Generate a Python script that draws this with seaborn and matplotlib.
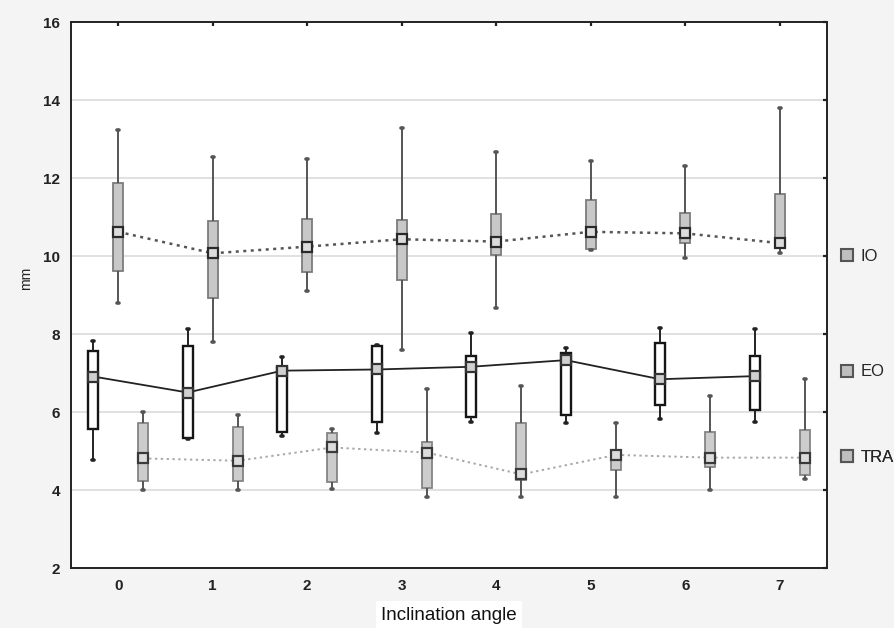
import numpy as np
import pandas as pd
import matplotlib
matplotlib.use("Agg")
import matplotlib.pyplot as plt
import seaborn as sns
from matplotlib.lines import Line2D

# ---------------- data ----------------
angles = [0, 1, 2, 3, 4, 5, 6, 7]
tick_labels = ["0", "1", "2", "3", "4", "5", "6", "7"]
series_names = ["EO", "IO", "TRA"]

io_min = [8.80, 7.80, 9.10, 7.59, 8.66, 10.15, 9.94, 10.07]
io_q1 = [9.62, 8.92, 9.60, 9.38, 10.03, 10.17, 10.33, 10.20]
io_med = [10.62, 10.07, 10.24, 10.43, 10.37, 10.62, 10.58, 10.33]
io_q3 = [11.86, 10.91, 10.94, 10.92, 11.07, 11.44, 11.11, 11.59]
io_max = [13.23, 12.55, 12.48, 13.27, 12.66, 12.44, 12.31, 13.79]

eo_min = [4.77, 5.30, 5.38, 5.47, 5.75, 5.73, 5.81, 5.75]
eo_q1 = [5.56, 5.33, 5.50, 5.75, 5.86, 5.92, 6.18, 6.05]
eo_med = [6.91, 6.50, 7.06, 7.09, 7.16, 7.33, 6.84, 6.92]
eo_q3 = [7.57, 7.69, 7.15, 7.69, 7.44, 7.51, 7.78, 7.44]
eo_max = [7.83, 8.13, 7.42, 7.72, 8.02, 7.63, 8.15, 8.12]

tra_min = [4.00, 4.00, 4.02, 3.83, 3.81, 3.83, 4.00, 4.27]
tra_q1 = [4.24, 4.24, 4.21, 4.04, 4.26, 4.51, 4.60, 4.38]
tra_med = [4.81, 4.75, 5.09, 4.96, 4.40, 4.90, 4.83, 4.83]
tra_q3 = [5.71, 5.62, 5.47, 5.24, 5.71, 5.03, 5.50, 5.54]
tra_max = [5.99, 5.92, 5.56, 6.58, 6.67, 5.71, 6.41, 6.84]

y_label = "mm"
x_label = "Inclination angle"

# ---------------- styling ----------------
sns.set_style("white")
plt.rcParams["font.family"] = ["Liberation Sans", "DejaVu Sans"]

fig = plt.figure(figsize=(8.95, 6.28), dpi=100, facecolor="#f4f4f4")
ax = fig.add_axes([71 / 895, 1 - 568 / 628, (827 - 71) / 895, (568 - 22) / 628])
ax.set_facecolor("white")

offset = 0.265
styles = {
    "EO": dict(off=-offset, stats=(eo_min, eo_q1, eo_med, eo_q3, eo_max),
               face="white", edge="#151515", lw=1.7, wcol="#222222",
               line=dict(color="#222222", linestyle="-", linewidth=1.3),
               mfc="#d0d0d0", mec="#333333"),
    "IO": dict(off=0.0, stats=(io_min, io_q1, io_med, io_q3, io_max),
               face="#c8c8c8", edge="#7c7c7c", lw=1.3, wcol="#555555",
               line=dict(color="#555555", linestyle=(0, (1.2, 1.8)), linewidth=1.8),
               mfc="#dcdcdc", mec="#2a2a2a"),
    "TRA": dict(off=offset, stats=(tra_min, tra_q1, tra_med, tra_q3, tra_max),
                face="#cccccc", edge="#858585", lw=1.3, wcol="#555555",
                line=dict(color="#a8a8a8", linestyle=(0, (1.2, 1.8)), linewidth=1.4),
                mfc="#dcdcdc", mec="#3a3a3a"),
}

for name in series_names:
    st = styles[name]
    mn, q1, md, q3, mx = st["stats"]
    rows = []
    for i, a in enumerate(angles):
        for v in (mn[i], q1[i], md[i], q3[i], mx[i]):
            rows.append({"pos": a + st["off"], "value": v})
    df = pd.DataFrame(rows)
    sns.boxplot(data=df, x="pos", y="value", native_scale=True, whis=(0, 100),
                width=0.11, ax=ax, color=st["face"], linecolor=st["edge"],
                linewidth=st["lw"], showfliers=False, capwidths=0.02,
                boxprops=dict(facecolor=st["face"], edgecolor=st["edge"], linewidth=st["lw"]),
                whiskerprops=dict(color=st["wcol"], linewidth=1.4),
                capprops=dict(color=st["wcol"], linewidth=2.6),
                medianprops=dict(color=st["edge"], linewidth=0.8))
    line_df = pd.DataFrame({"pos": [a + st["off"] for a in angles], "value": md})
    sns.lineplot(data=line_df, x="pos", y="value", ax=ax, legend=False,
                 marker="s", markersize=7, markerfacecolor=st["mfc"],
                 markeredgecolor=st["mec"], markeredgewidth=1.6,
                 zorder=5, **st["line"])

# axes
ax.set_xlim(-0.5, 7.5)
ax.set_ylim(2, 16)
ax.set_xticks(angles)
ax.set_xticklabels(tick_labels)
ax.set_yticks(np.arange(2, 17, 2))
ax.yaxis.grid(True, color="#d8d8d8", linewidth=1.1)
ax.xaxis.grid(False)
ax.set_axisbelow(True)
for s in ax.spines.values():
    s.set_visible(True)
    s.set_color("#222222")
    s.set_linewidth(1.4)
ax.tick_params(axis="both", direction="in", length=3, width=1.6, color="#222222",
               top=True, right=True, labelsize=11, pad=8)
for lab in ax.get_xticklabels() + ax.get_yticklabels():
    lab.set_fontweight("bold")
    lab.set_color("#222222")
ax.set_xlabel("")
ax.set_ylabel(y_label, fontsize=10, labelpad=4, color="#222222")
ax.yaxis.set_label_coords(-0.05, 0.53)

fig.text(0.5 * (71 + 827) / 895, 1 - 615 / 628, x_label, ha="center", va="center",
         fontsize=13.5, color="#111111",
         bbox=dict(facecolor="white", edgecolor="none", pad=4))

# legend entries placed beside the plot
legend_pos = {"IO": 0.571, "EO": 0.359, "TRA": 0.203}
for name in ["IO", "EO", "TRA"]:
    h = Line2D([], [], linestyle="none", marker="s", markersize=9,
               markerfacecolor="#bfbfbf", markeredgecolor="#555555", markeredgewidth=1.5)
    leg = ax.legend([h], [name], loc="center left", bbox_to_anchor=(1.0, legend_pos[name]),
                    frameon=False, fontsize=12, handlelength=0.8, handletextpad=0.4,
                    borderaxespad=0.4)
    ax.add_artist(leg)

fig.savefig("out.png", dpi=100, facecolor=fig.get_facecolor())
